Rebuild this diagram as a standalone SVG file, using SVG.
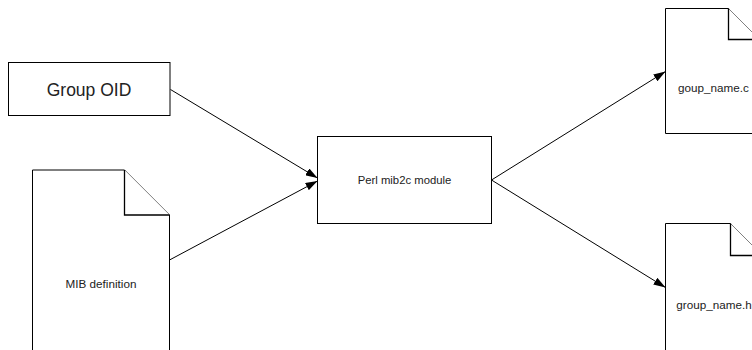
<svg xmlns="http://www.w3.org/2000/svg" width="752" height="350" viewBox="0 0 752 350">
<style>
.box{fill:#fff;stroke:#000;stroke-width:1}
.fold{fill:#fff;stroke:#000;stroke-width:1.3}
.t{font-family:"Liberation Sans",Arial,sans-serif;fill:#222;text-anchor:middle;dominant-baseline:central}
.edge{stroke:#000;stroke-width:1;fill:none;marker-end:url(#ah)}
</style>
<defs>
<marker id="ah" viewBox="0 0 12 8" refX="12" refY="4" markerWidth="12" markerHeight="8" markerUnits="userSpaceOnUse" orient="auto">
<path d="M0,0 L12,4 L0,8 Z" fill="#000"/>
</marker>
</defs>
<rect width="752" height="350" fill="#fff"/>
<g id="group-oid">
<rect class="box" x="8.5" y="62.5" width="161.5" height="53"/>
<text class="t" x="89" y="90" font-size="17.5">Group OID</text>
</g>
<g id="mib-definition">
<path class="box" d="M32.5,170 H124.5 L169.5,215 V360 H32.5 Z"/>
<path class="fold" d="M124.5,170 V215 H169.5"/>
<text class="t" x="101" y="283" font-size="11.7">MIB definition</text>
</g>
<g id="perl-module">
<rect class="box" x="317.5" y="136.5" width="174" height="87"/>
<text class="t" x="404.5" y="180" font-size="11.3">Perl mib2c module</text>
</g>
<g id="goup-name-c">
<path class="box" d="M665.5,8.5 H728.5 L759.5,39.5 V133.5 H665.5 Z"/>
<path class="fold" d="M728.5,8.5 V39.5 H759.5"/>
<text class="t" x="713.5" y="87" font-size="11.7">goup_name.c</text>
</g>
<g id="group-name-h">
<path class="box" d="M665.5,223.5 H730.5 L762.5,255.5 V360 H665.5 Z"/>
<path class="fold" d="M730.5,223.5 V255.5 H762.5"/>
<text class="t" x="714" y="304" font-size="11.7">group_name.h</text>
</g>
<g id="connectors">
<line class="edge" x1="170.5" y1="89.5" x2="317.5" y2="178"/>
<line class="edge" x1="169.5" y1="260" x2="317.5" y2="181"/>
<line class="edge" x1="491.5" y1="180" x2="665.5" y2="71.5"/>
<line class="edge" x1="491.5" y1="180" x2="665.5" y2="287.5"/>
</g>
</svg>
